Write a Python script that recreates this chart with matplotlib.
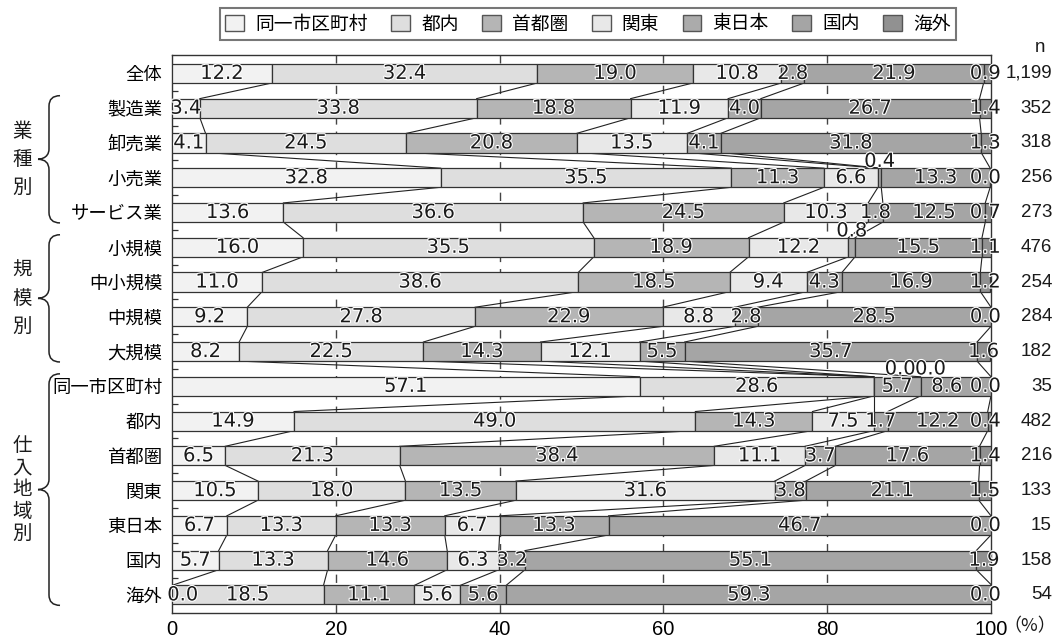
import matplotlib
matplotlib.use("Agg")
import matplotlib.pyplot as plt
import matplotlib.patheffects as pe
import matplotlib.transforms as mtransforms
from matplotlib.patches import Patch, PathPatch
from matplotlib.path import Path
import numpy as np

# purchase-region shares (%) by respondent group
categories = ["全体", "製造業", "卸売業", "小売業", "サービス業",
              "小規模", "中小規模", "中規模", "大規模",
              "同一市区町村", "都内", "首都圏", "関東", "東日本", "国内", "海外"]
series = ["同一市区町村", "都内", "首都圏", "関東", "東日本", "国内", "海外"]
shares = [
    [12.2, 32.4, 19.0, 10.8, 2.8, 21.9, 0.9],
    [3.4, 33.8, 18.8, 11.9, 4.0, 26.7, 1.4],
    [4.1, 24.5, 20.8, 13.5, 4.1, 31.8, 1.3],
    [32.8, 35.5, 11.3, 6.6, 0.4, 13.3, 0.0],
    [13.6, 36.6, 24.5, 10.3, 1.8, 12.5, 0.7],
    [16.0, 35.5, 18.9, 12.2, 0.8, 15.5, 1.1],
    [11.0, 38.6, 18.5, 9.4, 4.3, 16.9, 1.2],
    [9.2, 27.8, 22.9, 8.8, 2.8, 28.5, 0.0],
    [8.2, 22.5, 14.3, 12.1, 5.5, 35.7, 1.6],
    [57.1, 28.6, 0.0, 0.0, 5.7, 8.6, 0.0],
    [14.9, 49.0, 14.3, 7.5, 1.7, 12.2, 0.4],
    [6.5, 21.3, 38.4, 11.1, 3.7, 17.6, 1.4],
    [10.5, 18.0, 13.5, 31.6, 3.8, 21.1, 1.5],
    [6.7, 13.3, 13.3, 6.7, 13.3, 46.7, 0.0],
    [5.7, 13.3, 14.6, 6.3, 3.2, 55.1, 1.9],
    [0.0, 18.5, 11.1, 5.6, 5.6, 59.3, 0.0],
]
sample_sizes = ["1,199", "352", "318", "256", "273", "476", "254", "284",
                "182", "35", "482", "216", "133", "15", "158", "54"]
group_labels = ["業種別", "規模別", "仕入地域別"]
group_rows = [(1, 4), (5, 8), (9, 15)]
group_spacing = [1.45, 1.45, 1.05]

colors = ["#f2f2f2", "#dedede", "#b5b5b5", "#e8e8e8", "#ababab", "#a5a5a5", "#919191"]
# labels of tiny segments that sit above the bar: (row, segment) -> (x, row offset)
lifted = {(3, 4): (86.4, -0.47), (5, 4): (83.0, -0.47),
          (9, 2): (88.9, -0.5), (9, 3): (92.6, -0.5)}
# labels nudged sideways so neighbours do not collide
nudged = {(9, 5): 94.6}

JP = ["Noto Sans CJK JP", "DejaVu Sans"]
NUM = ["DejaVu Sans"]
EDGE = "#333333"
BAR_H = 0.55

fig = plt.figure(figsize=(10.58, 6.39), dpi=100)
ax = fig.add_axes([172 / 1058, 1 - 613 / 639, 819 / 1058, 558 / 639])

data = np.array(shares)
ypos = np.arange(len(categories))
lefts = np.zeros(len(categories))
handles = []
for j, name in enumerate(series):
    ax.barh(ypos, data[:, j], left=lefts, height=BAR_H, color=colors[j],
            edgecolor=EDGE, linewidth=0.9, zorder=3)
    handles.append(Patch(facecolor=colors[j], edgecolor="#555555", linewidth=1.0, label=name))
    lefts += data[:, j]

# connector lines between the boundaries of neighbouring bars
cum = np.cumsum(data, axis=1)
for i in range(len(categories) - 1):
    for k in range(len(series) - 1):
        ax.plot([cum[i, k], cum[i + 1, k]], [i + BAR_H / 2, i + 1 - BAR_H / 2],
                color="#222222", linewidth=0.8, zorder=2)

# value labels
halo = [pe.withStroke(linewidth=1.6, foreground="white")]
for i in range(len(categories)):
    start = 0.0
    for j in range(len(series)):
        v = data[i, j]
        mid = start + v / 2
        if (i, j) in lifted:
            x, dy = lifted[(i, j)]
            y = i + dy
        else:
            x, y = min(max(nudged.get((i, j), mid), 1.3), 99.3), i
        ax.text(x, y, f"{v:.1f}", ha="center", va="center", fontsize=14,
                family=NUM, color="#1a1a1a", zorder=5, path_effects=halo)
        start += v

# dashed guides
for gx in (20, 40, 60, 80):
    ax.axvline(gx, color="#444444", linewidth=1.0, dashes=(6, 5), zorder=1)

ax.set_xlim(0, 100)
ax.set_ylim(len(categories) - 0.48, -0.53)
ax.set_xticks([0, 20, 40, 60, 80, 100])
ax.set_xticklabels(["0", "20", "40", "60", "80", "100"], family=["Liberation Sans"], fontsize=14.5)
ax.tick_params(axis="x", length=0, pad=5)
ax.set_yticks(ypos)
ax.set_yticklabels(categories, family=JP, fontsize=13.2)
ax.tick_params(axis="y", which="major", length=0, pad=7)
ax.set_yticks(ypos[:-1] + 0.5, minor=True)
ax.tick_params(axis="y", which="minor", direction="in", length=4, width=0.9, color=EDGE)
for sp in ax.spines.values():
    sp.set_color(EDGE)
    sp.set_linewidth(1.0)

# sample sizes on the right
trans_n = mtransforms.blended_transform_factory(fig.transFigure, ax.transData)
for i, n in enumerate(sample_sizes):
    ax.text(1052 / 1058, i, n, transform=trans_n, ha="right", va="center",
            fontsize=13.5, family=["Liberation Sans"], color="#1a1a1a")
fig.text(1040 / 1058, 1 - 47 / 639, "n", ha="center", va="center", fontsize=13.5,
         family=["Liberation Sans"], color="#1a1a1a")
fig.text(1030 / 1058, 1 - 626 / 639, "（%）", ha="center", va="center", fontsize=13,
         family=JP, color="#1a1a1a")


def draw_brace(top, bottom, x_end, x_spine, x_tip):
    """Left-pointing curly brace spanning rows top..bottom."""
    r = 0.3
    mid = (top + bottom) / 2
    verts = [
        (x_end, top), (x_spine, top), (x_spine, top + r),
        (x_spine, mid - r),
        (x_spine, mid), (x_tip, mid), (x_tip, mid),
        (x_spine, mid), (x_spine, mid + r),
        (x_spine, bottom - r),
        (x_spine, bottom), (x_end, bottom),
    ]
    codes = [Path.MOVETO, Path.CURVE3, Path.CURVE3,
             Path.LINETO,
             Path.CURVE4, Path.CURVE4, Path.CURVE4,
             Path.CURVE3, Path.CURVE3,
             Path.LINETO,
             Path.CURVE3, Path.CURVE3]
    patch = PathPatch(Path(verts, codes), facecolor="none", edgecolor="#222222",
                      linewidth=1.1, transform=trans_n, clip_on=False)
    ax.add_patch(patch)
    return mid


for label, (first, last), spacing in zip(group_labels, group_rows, group_spacing):
    mid = draw_brace(first - 0.36, last + 0.3, 60 / 1058, 49 / 1058, 38 / 1058)
    ax.text(22 / 1058, mid, "\n".join(label), transform=trans_n, ha="center", va="center",
            fontsize=14, family=JP, color="#1a1a1a", linespacing=spacing)

fig.legend(handles=handles, loc="center", bbox_to_anchor=(588 / 1058, 1 - 24 / 639),
           ncol=7, frameon=True, fancybox=False, edgecolor="#555555",
           prop={"family": JP, "size": 13.5}, handlelength=1.0, handleheight=1.0,
           handletextpad=0.6, columnspacing=1.25, borderpad=0.3, borderaxespad=0)
fig.legends[0].get_frame().set_linewidth(1.5)

fig.savefig("out.png", dpi=100)
